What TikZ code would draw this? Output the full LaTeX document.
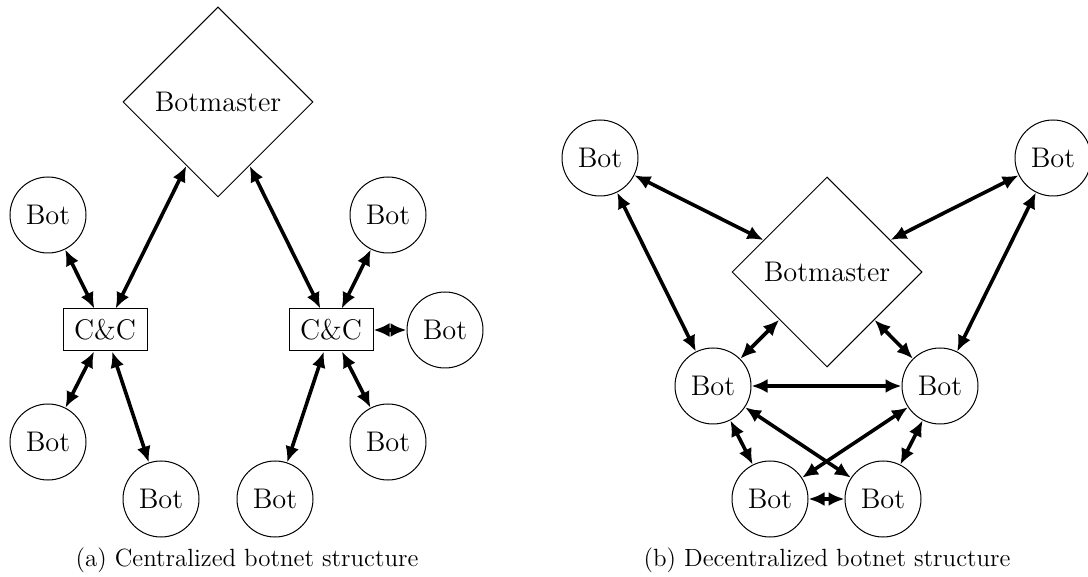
\documentclass[tikz,border=0pt]{standalone}
\usepackage{fontspec}
\usetikzlibrary{shapes.geometric,arrows.meta}

\tikzset{
  nodefont/.style={font=\fontsize{14.2}{17}\selectfont},
  bot/.style={circle,draw,line width=0.5pt,minimum size=38pt,inner sep=0pt,nodefont},
  master/.style={diamond,draw,line width=0.5pt,minimum width=95pt,minimum height=95pt,inner sep=0pt,nodefont},
  cc/.style={rectangle,draw,line width=0.5pt,minimum width=42pt,minimum height=21pt,inner sep=0pt,nodefont},
  link/.style={line width=1.8pt,{Latex[length=8pt,width=7pt]}-{Latex[length=8pt,width=7pt]}},
  captext/.style={anchor=base,font=\fontsize{12.45}{15}\selectfont}
}

\begin{document}
\begin{tikzpicture}[x=0.5pt,y=-0.5pt]
\useasboundingbox (0,0) rectangle (1088,577);

% Centralized structure
\node[master] (bm1) at (218,102) {Botmaster};
\node[cc] (cc1) at (105,330) {C\&C};
\node[cc] (cc2) at (331,330) {C\&C};
\node[bot] (a1) at (48,215) {Bot};
\node[bot] (a2) at (48,442) {Bot};
\node[bot] (a3) at (161,499) {Bot};
\node[bot] (a4) at (388,215) {Bot};
\node[bot] (a5) at (445,330) {Bot};
\node[bot] (a6) at (388,442) {Bot};
\node[bot] (a7) at (275,499) {Bot};

\draw[link] (bm1) -- (cc1);
\draw[link] (bm1) -- (cc2);
\draw[link] (a1) -- (cc1);
\draw[link] (a2) -- (cc1);
\draw[link] (a3) -- (cc1);
\draw[link] (a4) -- (cc2);
\draw[link] (a5) -- (cc2);
\draw[link] (a6) -- (cc2);
\draw[link] (a7) -- (cc2);

\node[captext] (capa) at (247,566) {(a) Centralized botnet structure};

% Decentralized structure
\node[master] (bm2) at (827,272) {Botmaster};
\node[bot] (b1) at (600,158) {Bot};
\node[bot] (b2) at (1053,158) {Bot};
\node[bot] (b3) at (713,386) {Bot};
\node[bot] (b4) at (940,386) {Bot};
\node[bot] (b5) at (770,499) {Bot};
\node[bot] (b6) at (883,499) {Bot};

\draw[link] (b1) -- (bm2);
\draw[link] (b2) -- (bm2);
\draw[link] (b1) -- (b3);
\draw[link] (b2) -- (b4);
\draw[link] (bm2) -- (b3);
\draw[link] (bm2) -- (b4);
\draw[link] (b3) -- (b4);
\draw[link] (b3) -- (b5);
\draw[link] (b4) -- (b6);
\draw[link] (b3) -- (b6);
\draw[link] (b4) -- (b5);
\draw[link] (b5) -- (b6);

\node[captext] (capb) at (827,566) {(b) Decentralized botnet structure};
\end{tikzpicture}
\end{document}
